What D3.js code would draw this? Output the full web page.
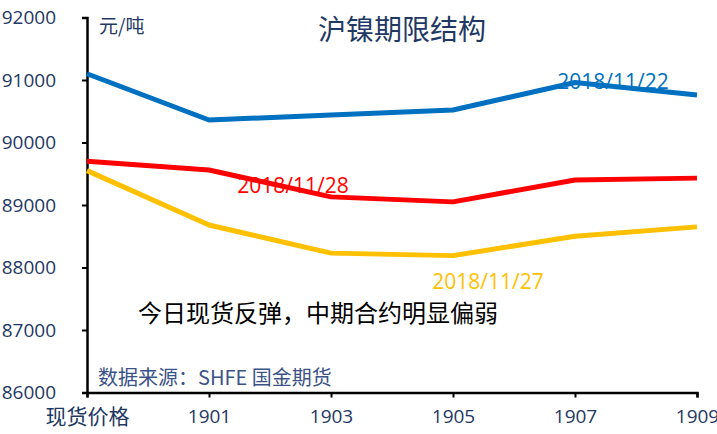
<!DOCTYPE html>
<meta charset="utf-8">
<title>沪镍期限结构</title>
<style>
body { margin: 0; background: #fff; }
text { font-family: "Noto Sans CJK SC", "Open Sans", sans-serif; }
.num { font-family: "Open Sans", "Noto Sans CJK SC", sans-serif; }
</style>
<svg width="717" height="434"></svg>
<script src="https://cdn.jsdelivr.net/npm/d3@7"></script>
<script>
var categories = ["现货价格", "1901", "1903", "1905", "1907", "1909"];
var s1122 = [91100, 90360, 90440, 90520, 90960, 90760];
var s1128 = [89700, 89560, 89130, 89050, 89400, 89430];
var s1127 = [89550, 88680, 88230, 88190, 88500, 88650];
var yTicks = [86000, 87000, 88000, 89000, 90000, 91000, 92000];

var series = [
  {name: "2018/11/22", values: s1122, color: "#0070C0", lx: 613, ly: 81},
  {name: "2018/11/28", values: s1128, color: "#FF0000", lx: 293, ly: 185},
  {name: "2018/11/27", values: s1127, color: "#FFC000", lx: 488, ly: 281}
];

var svg = d3.select("svg");

var x = d3.scalePoint().domain(categories).range([87, 697]);
var y = d3.scaleLinear().domain([86000, 92000]).range([392.5, 17.5]);

var navy = "#1F3864";

// axes
var yAxis = svg.append("g")
    .attr("transform", "translate(87,0)")
    .call(d3.axisLeft(y).tickValues(yTicks).tickSize(5).tickPadding(26).tickFormat(d3.format("d")));
yAxis.select(".domain").attr("stroke", "#000").attr("stroke-width", 2.5);
yAxis.selectAll(".tick line").attr("stroke", "#000").attr("stroke-width", 2);
yAxis.selectAll(".tick text")
    .attr("class", "num")
    .attr("fill", navy)
    .style("font-size", "19px");

var xAxis = svg.append("g")
    .attr("transform", "translate(0,392.5)")
    .call(d3.axisBottom(x).tickSize(5).tickPadding(12));
xAxis.select(".domain").attr("stroke", "#000").attr("stroke-width", 2.5);
xAxis.selectAll(".tick line").attr("stroke", "#000").attr("stroke-width", 2);
xAxis.selectAll(".tick text")
    .attr("fill", navy)
    .style("font-size", function(d) { return d === "现货价格" ? "21px" : "19px"; })
    .style("font-family", function(d) { return d === "现货价格" ? "'Noto Sans CJK SC'" : "'Open Sans'"; });

// lines
var line = d3.line()
    .x(function(d, i) { return x(categories[i]); })
    .y(function(d) { return y(d); });

series.forEach(function(s) {
  svg.append("path")
      .datum(s.values)
      .attr("fill", "none")
      .attr("stroke", s.color)
      .attr("stroke-width", 5)
      .attr("stroke-linejoin", "round")
      .attr("d", line);
});

series.forEach(function(s) {
  svg.append("text")
      .attr("class", "num")
      .attr("x", s.lx)
      .attr("y", s.ly)
      .attr("text-anchor", "middle")
      .attr("dominant-baseline", "central")
      .attr("fill", s.color)
      .style("font-size", "21px")
      .text(s.name);
});

// title and notes
svg.append("text")
    .attr("x", 402).attr("y", 28)
    .attr("text-anchor", "middle")
    .attr("dominant-baseline", "central")
    .attr("fill", navy)
    .style("font-size", "28px")
    .text("沪镍期限结构");

svg.append("text")
    .attr("x", 99).attr("y", 24)
    .attr("dominant-baseline", "central")
    .attr("fill", navy)
    .style("font-size", "19px")
    .text("元/吨");

svg.append("text")
    .attr("x", 138).attr("y", 311)
    .attr("dominant-baseline", "central")
    .attr("fill", "#000")
    .style("font-size", "24px")
    .text("今日现货反弹，中期合约明显偏弱");

svg.append("text")
    .attr("x", 98).attr("y", 376)
    .attr("dominant-baseline", "central")
    .attr("fill", "#3B5287")
    .style("font-size", "20px")
    .text("数据来源：SHFE 国金期货");
</script>
